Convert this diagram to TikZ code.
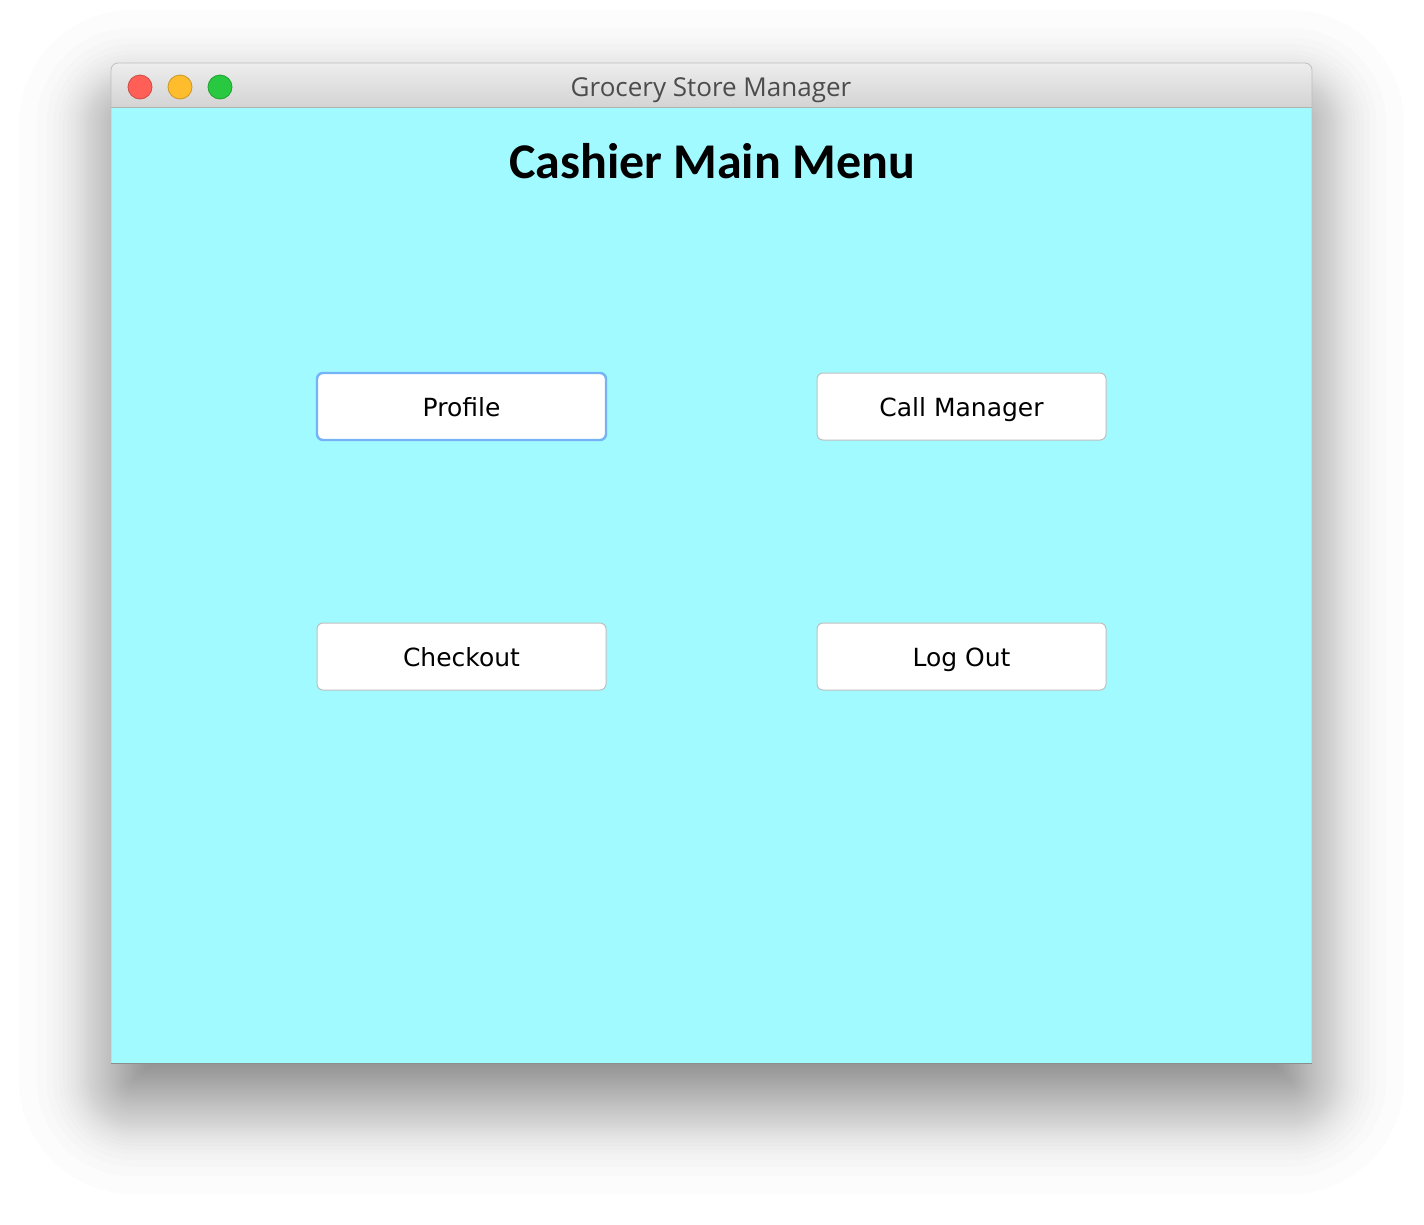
\documentclass[tikz,border=0pt]{standalone}
\usepackage{fontspec}
\setmainfont{DejaVu Sans}
\newfontfamily\headfont{Carlito}
\newfontfamily\barfont{Open Sans}
\usetikzlibrary{positioning}
\definecolor{panel}{RGB}{161,250,255}
\definecolor{focus}{RGB}{118,178,246}
\definecolor{lampred}{RGB}{255,95,87}
\definecolor{lampyellow}{RGB}{255,189,46}
\definecolor{lampgreen}{RGB}{40,201,64}
\tikzstyle{button} = [rectangle, draw=black!25, line width=1pt, fill=white, rounded corners=6pt, minimum width=289pt, minimum height=67pt, text height=24pt, text depth=5pt, font=\fontsize{25}{30}\selectfont]
\tikzstyle{heading} = [font=\headfont\bfseries\fontsize{50}{60}\selectfont, anchor=base]
\tikzset{lamp/.style = {
    line width=0.8pt,
  }
}
\newcommand{\winlight}[3]{%
  \fill[#2, draw=#3, lamp] (#1) circle (12pt);
}

\begin{document}
\begin{tikzpicture}[x=1pt, y=-1pt]
            \useasboundingbox (0,0) rectangle (1424,1224);
            % shadow
            \foreach \k in {1,...,60}{
              \pgfmathsetmacro\p{(\k-0.5)/60}
              \pgfmathsetmacro\o{42*4.91*(pow(\p,0.14)-pow(1-\p,0.14))}
              \pgfmathsetmacro\rad{max(3,\o+14)}
              \fill[black, opacity=0.0135, rounded corners=\rad pt] (119-\o,110-\o) rectangle (1304+\o,1094+\o);
            }

            % window
            \fill[panel] (111,107) rectangle (1312,1063);
            \shade[top color=black!7, bottom color=black!17] (111,107) [rounded corners=7pt] -- (111,63) -- (1312,63) [sharp corners] -- (1312,107) -- cycle;
            \draw[black!30, line width=1pt] (111,107) -- (1312,107);
            \draw[black!25, line width=0.8pt] (111,1063) [rounded corners=7pt] -- (111,63) -- (1312,63) [sharp corners] -- (1312,1063);
            \draw[black!45, line width=1pt] (111,1063) -- (1312,1063);
            \node[anchor=base, text=black!70, font=\barfont\fontsize{26}{30}\selectfont] (bar) at (711,96) {Grocery Store Manager};

            \winlight{140,87}{lampred}{lampred!80!black}
            \winlight{180,87}{lampyellow}{lampyellow!80!black}
            \winlight{220,87}{lampgreen}{lampgreen!80!black}

            % vertices
            \node[heading] (title) at (712,178) {Cashier Main Menu};
            \node[button, draw=focus, line width=2.4pt] (profile) at (461.5,406.5) {Profile};
            \node[button] (call) at (961.5,406.5) {Call Manager};
            \node[button] (checkout) at (461.5,656.5) {Checkout};
            \node[button] (logout) at (961.5,656.5) {Log Out};
\end{tikzpicture}
\end{document}
